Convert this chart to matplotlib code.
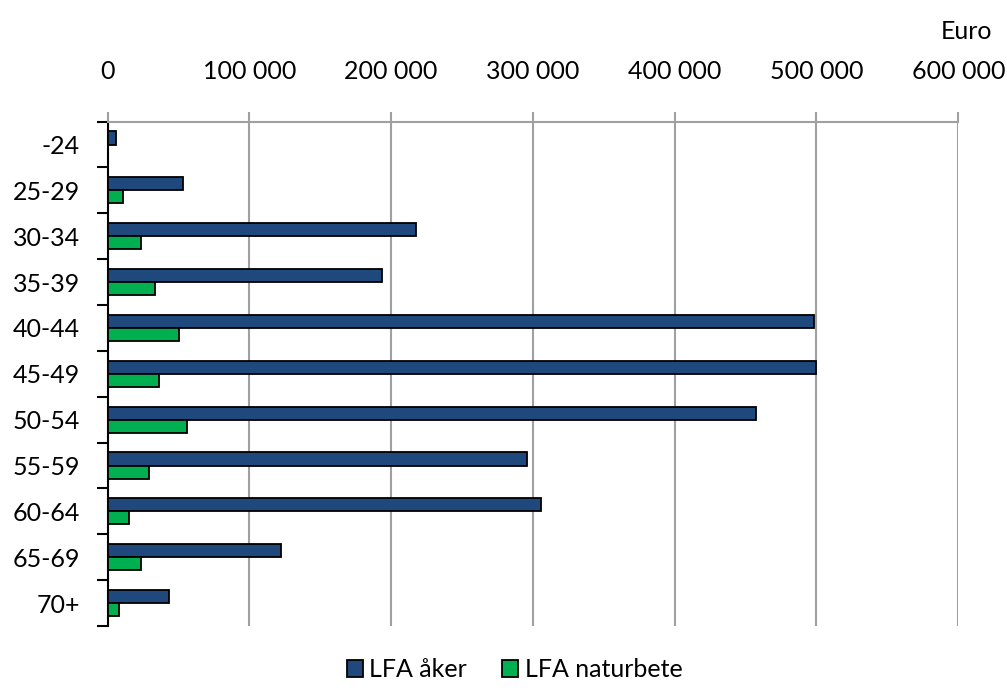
import numpy as np
import matplotlib.pyplot as plt

# Data
age_groups = ['-24', '25-29', '30-34', '35-39', '40-44', '45-49',
              '50-54', '55-59', '60-64', '65-69', '70+']
lfa_aker = [5800, 53500, 217300, 193400, 498000, 500000,
            457000, 296000, 305500, 122000, 43500]
lfa_naturbete = [0, 11100, 23600, 33500, 50400, 36300,
                 55900, 29300, 15400, 23600, 8300]
x_ticks = [0, 100000, 200000, 300000, 400000, 500000, 600000]
x_tick_labels = ['0', '100 000', '200 000', '300 000', '400 000', '500 000', '600 000']

plt.rcParams['font.family'] = ['Lato', 'DejaVu Sans']
fs = 18

fig = plt.figure(figsize=(10.07, 6.91), dpi=100)
ax = fig.add_axes([0.1068, 0.094, 0.8448, 0.730])

pos = np.arange(len(age_groups))
h = 0.285
ax.barh(pos - h / 2, lfa_aker, height=h, color='#1F497D',
        edgecolor='black', linewidth=1.3, label='LFA åker', zorder=3)
ax.barh(pos + h / 2, lfa_naturbete, height=h, color='#00B050',
        edgecolor='black', linewidth=1.3, label='LFA naturbete', zorder=3)

ax.set_xlim(0, 600000)
ax.set_ylim(len(age_groups) - 0.5, -0.5)

# x axis on top with grey grid lines
ax.xaxis.tick_top()
ax.set_xticks(x_ticks)
ax.set_xticklabels(x_tick_labels, fontsize=fs)
ax.tick_params(axis='x', direction='out', length=7, width=1.5,
               color='#A0A0A0', pad=21)
ax.grid(axis='x', color='#A0A0A0', linewidth=1.5, zorder=0)

# category ticks at group boundaries, labels in the middle
ax.set_yticks(np.arange(len(age_groups) + 1) - 0.5)
ax.set_yticklabels([])
ax.set_yticks(pos, minor=True)
ax.set_yticklabels(age_groups, minor=True, fontsize=fs)
ax.tick_params(axis='y', which='major', direction='out', length=8, width=1.5, color='black')
ax.tick_params(axis='y', which='minor', length=0, pad=20)

for s in ['right', 'bottom']:
    ax.spines[s].set_visible(False)
ax.spines['top'].set_color('#A0A0A0')
ax.spines['top'].set_linewidth(1.5)
ax.spines['left'].set_color('black')
ax.spines['left'].set_linewidth(1.5)

fig.text(0.985, 0.955, 'Euro', fontsize=fs, ha='right', va='center')

fig.legend(loc='center', bbox_to_anchor=(0.511, 0.031), ncol=2, frameon=False,
           fontsize=fs, handlelength=0.65, handleheight=0.65, handletextpad=0.25,
           columnspacing=1.4)

fig.savefig('out.png', dpi=100)
